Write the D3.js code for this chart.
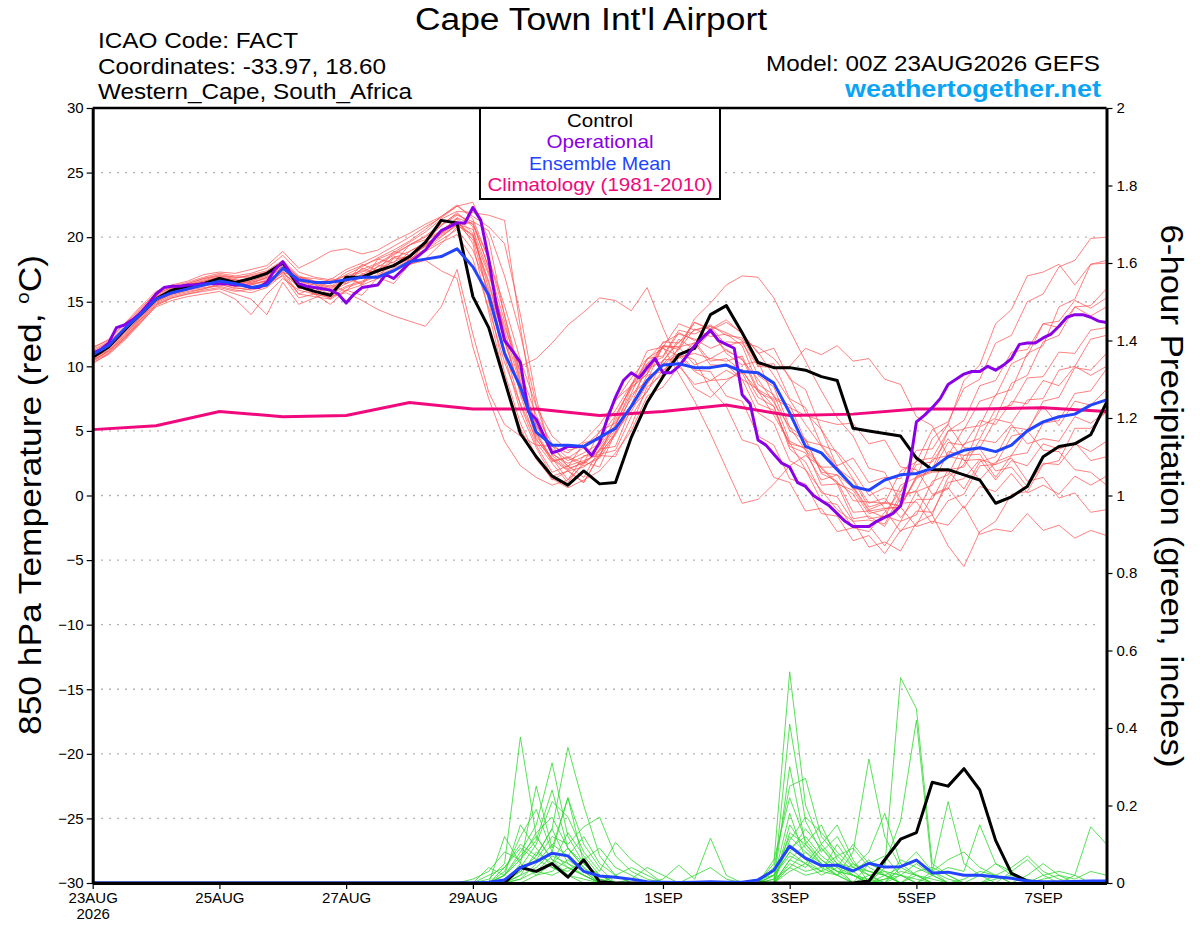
<!DOCTYPE html>
<html><head><meta charset="utf-8">
<script src="https://cdn.jsdelivr.net/npm/d3@7"></script>
<style>body{margin:0;background:#fff}svg{display:block}text{font-family:"Liberation Sans",Arial,Helvetica,sans-serif}</style>
</head><body><svg id="chart" width="1200" height="927"></svg>
<script>
// ---------- DATA ----------
const tempTicks = [-30,-25,-20,-15,-10,-5,0,5,10,15,20,25,30];
const gridValues = [-25,-20,-15,-10,-5,0,5,10,15,20,25];
const precipTicks = [0,0.2,0.4,0.6,0.8,1,1.2,1.4,1.6,1.8,2];
const xTickDays = [0,2,4,6,9,11,13,15];
const xTickLabels = ["23AUG","25AUG","27AUG","29AUG","1SEP","3SEP","5SEP","7SEP"];

// 6-hourly control (GEFS c00) 850 hPa temperature
const controlTemp = [10.7,11.5,12.8,14.0,15.2,15.9,16.2,16.4,16.8,16.5,
 16.8,17.2,18.0,16.2,15.8,15.5,16.9,16.9,17.4,17.8,
 18.5,19.6,21.3,21.1,15.4,13.0,8.9,4.8,3.0,1.5,
 0.8,1.9,0.9,1.0,4.5,7.2,9.2,10.9,11.4,14.0,
 14.7,12.6,10.3,9.9,9.9,9.7,9.2,8.9,5.2,5.0,
 4.8,4.6,2.9,2.0,2.0,1.6,1.2,-0.6,-0.1,0.7,
 3.0,3.8,4.0,4.7,7.2];

// 6-hourly ensemble mean
const meanTemp = [10.9,11.6,12.9,14.0,15.2,15.7,16.0,16.3,16.6,16.4,
 16.1,16.3,17.6,16.7,16.5,16.5,16.7,16.9,16.9,17.4,
 18.1,18.3,18.5,19.1,17.7,15.5,11.0,8.4,4.9,3.9,
 3.9,3.8,4.5,5.2,6.9,8.9,10.1,10.2,9.9,9.9,
 10.1,9.6,9.5,8.7,6.4,3.8,3.3,2.0,0.7,0.4,
 1.2,1.6,1.7,2.1,3.0,3.5,3.7,3.4,3.9,5.0,
 5.7,6.1,6.3,7.0,7.4];

// 3-hourly operational run
const operationalTemp = [11.0,11.3,11.8,13.0,13.2,13.6,14.1,14.8,15.6,16.1,
 16.2,16.2,16.3,16.3,16.4,16.4,16.4,16.4,16.3,16.3,
 16.1,16.1,16.5,17.5,18.1,17.2,16.4,16.2,16.1,16.0,
 15.9,15.6,14.9,15.6,16.1,16.2,16.3,17.1,16.8,17.4,
 18.0,18.5,19.0,19.8,20.5,20.8,21.1,21.1,22.3,21.3,
 18.3,14.6,12.0,11.2,10.3,6.5,5.9,4.6,3.3,3.5,
 3.8,3.8,3.8,3.1,4.1,6.0,7.6,8.9,9.5,9.1,
 9.9,10.6,9.5,9.5,10.0,10.8,11.6,12.2,12.8,12.0,
 11.7,11.4,7.8,7.1,4.3,3.9,3.2,2.5,2.2,1.0,
 0.7,0.0,-0.4,-0.8,-1.4,-2.0,-2.4,-2.4,-2.4,-2.0,
 -1.7,-1.4,-0.8,1.7,5.7,6.2,6.8,7.5,8.6,9.0,
 9.4,9.6,9.6,10.0,9.7,10.1,10.6,11.7,11.8,11.8,
 12.2,12.5,13.1,13.8,14.0,14.0,13.8,13.5,13.4];

// daily climatology (1981-2010)
const climatologyTemp = [5.1,5.4,6.5,6.1,6.2,7.2,6.7,6.7,6.2,6.5,7.0,6.2,6.3,6.7,6.7,6.8,6.5];

// 6-hourly ensemble members, 850 hPa temperature
const memberTemps = [
 [11.5,12.0,13.2,14.5,15.6, 16.1,16.3,16.7,17.0,16.8,17.1,17.4,18.2, 17.0,16.6,16.4,17.3,17.8,18.3,18.8,19.6, 20.4,21.4,22.0,21.9, 21.7,21.3,13.0,5.5, 3.2,2.5,3.0,3.8,5.5, 7.5,9.8,10.4,12.1,11.3,12.6,11.2, 10.6,8.0,7.4,4.2,3.6,0.8,0.9, -1.8,-1.6,-2.4,-0.2,0.4,2.8,3.1,5.2,5.4, 7.8,8.2,11.0,11.6,14.6,15.2,17.9,18.0],
 [10.8,11.4,12.5,13.8,15.0, 15.6,16.0,16.2,16.5,16.2,16.4,16.9,17.6, 16.2,15.6,15.3,16.1,16.5,17.0,17.6,18.2, 19.0,19.8,20.6,19.0, 15.8,12.2,10.0,10.6, 11.8,13.2,14.2,15.3,15.1, 14.3,16.1,13.0,10.2,8.3,7.6,8.8, 9.8,7.6,6.9,3.8,3.3,1.2,1.6, 0.6,-1.2,-1.0,-0.9,1.4,1.8,1.9,0.5,2.6, 3.0,5.3,5.1,6.9,5.4,7.3,7.0,8.2],
 [10.4,11.2,12.3,13.6,14.9, 15.5,15.8,16.0,16.3,16.1,15.9,16.2,17.3, 16.8,15.8,16.6,16.4,17.6,17.2,18.5,18.4, 19.4,20.3,21.2,20.1, 16.4,11.9,8.2,4.6, 2.9,2.0,2.6,3.4,5.1, 7.0,8.8,10.2,11.3,13.7,14.9,16.3, 17.0,16.9,15.3,12.8,10.4,8.1,6.0, 4.6,2.1,1.8,-0.6,-0.5,-2.2,-0.4,0.1,2.3, 2.4,4.6,4.9,7.3,7.6,9.9,9.7,11.0],
 [11.0,11.6,12.9,14.2,15.4, 15.9,16.2,16.6,16.9,16.7,16.5,16.8,17.8, 16.9,16.8,16.6,17.0,17.4,17.3,17.8,18.3, 18.9,19.6,20.2,18.3, 14.5,10.3,7.1,4.4, 2.7,2.9,3.7,4.5,6.2, 8.4,10.5,11.8,12.5,12.1,11.4,11.9, 11.8,10.0,9.9,10.0,11.4,10.9,11.6, 10.4,10.6,9.0,8.6,6.1,5.4,3.0,2.8,1.2, 2.6,3.1,5.0,3.5,3.4,2.0,1.8,0.8],
 [10.6,11.3,12.4,13.7,15.1, 15.7,16.0,16.4,16.6,16.3,16.6,17.0,17.9, 16.0,16.4,15.4,16.9,16.3,17.8,17.7,18.9, 19.6,20.9,21.9,20.8, 15.0,9.5,5.6,3.0, 1.2,1.9,1.0,3.1,3.0, 5.4,8.4,9.4,11.5,10.1,10.6,10.4, 10.8,8.2,6.9,3.6,2.6,0.2,-0.1, -2.0,-1.9,-2.2,0.1,0.3,-1.5,-3.9,-5.5,-2.8, -2.0,0.1,0.3,2.4,2.7,5.2,5.2,6.5],
 [11.3,11.9,13.0,14.4,15.7, 16.2,16.5,16.9,17.2,17.0,17.2,17.6,18.6, 17.3,16.9,16.7,17.5,18.0,18.6,19.3,20.0, 20.8,21.5,22.4,22.7, 19.8,13.9,8.9,5.3, 3.6,2.7,3.3,4.0,5.8, 8.6,9.6,11.6,11.3,12.9,12.3,12.5, 11.6,8.6,7.8,5.0,4.3,1.8,1.6, -0.4,-0.5,-0.6,1.9,2.6,5.1,5.7,8.3,9.0, 11.8,12.4,15.0,15.6,17.7,18.2,19.9,20.0],
 [10.2,11.0,12.1,13.5,14.8, 15.3,15.6,15.9,16.1,15.8,16.0,16.4,17.0, 15.3,15.6,14.8,15.9,15.5,16.9,16.4,17.9, 18.3,19.5,20.8,21.2, 17.6,12.5,7.8,4.1, 2.5,1.0,2.6,2.2,4.9, 6.5,8.6,10.4,11.9,12.8,13.1,12.6, 12.0,9.3,8.4,5.3,4.4,1.7,1.1, -1.3,-1.2,-1.7,0.8,1.4,4.4,5.5,8.9,10.1, 13.3,14.4,17.0,17.3,17.9,16.3,17.9,18.2],
 [10.9,11.5,12.7,14.0,15.3, 15.8,16.1,16.3,16.7,16.4,16.3,16.6,17.4, 15.6,16.1,15.2,16.9,16.4,18.3,18.0,19.4, 19.8,20.5,21.4,19.5, 14.2,9.0,5.2,2.8, 1.3,0.6,1.2,1.9,3.3, 5.0,7.7,8.4,10.0,8.6,8.9,9.0, 9.5,7.1,6.6,4.0,3.7,2.2,2.2, 0.5,0.5,-1.0,-0.9,-2.4,-2.0,-2.3,-0.8,-3.0, -2.6,-2.8,-1.4,-2.7,-2.3,-3.3,-2.7,-3.1],
 [10.5,11.1,12.2,13.6,15.0, 15.6,15.9,16.1,16.2,15.9,15.7,16.1,17.1, 15.6,15.4,15.2,15.9,16.3,16.8,17.4,17.9, 18.2,17.4,16.8,11.5, 7.5,4.2,2.3,1.4, 0.8,1.2,2.4,3.6,5.3, 6.9,9.3,9.6,11.0,9.7,9.6,7.7, 7.3,4.6,3.9,1.3,0.9,-1.4,-1.6, -3.5,-3.1,-4.5,-2.7,-2.3,0.0,0.5,3.1,3.7, 5.9,5.6,7.4,7.5,9.7,10.0,12.1,12.4],
 [11.4,12.1,13.3,14.6,15.8, 16.3,16.6,17.1,17.3,17.2,17.5,17.8,18.9, 17.6,18.2,18.9,19.1,18.7,19.0,19.7,20.3, 21.0,21.6,22.5,21.4, 18.3,14.7,10.5,6.9, 4.6,3.5,3.8,4.9,6.6, 8.6,10.2,11.5,9.4,7.3,4.8,2.1, -0.6,-0.3,0.9,2.3,3.1,2.2,1.0, 0.1,-1.8,-1.6,-2.0,0.3,0.8,3.4,3.1,3.2, 1.4,3.1,3.3,5.6,5.8,7.9,8.1,9.8],
 [10.7,11.2,12.2,13.4,14.6, 15.1,15.4,15.6,15.8,15.2,14.0,15.6,16.8, 15.9,15.6,15.4,15.7,15.1,14.4,13.9,13.5, 13.1,14.6,17.5,12.5, 8.0,5.5,4.6,3.9, 3.8,3.3,4.2,5.5,7.3, 9.1,10.6,11.4,10.8,9.6,8.9,9.7, 9.0,6.4,5.6,2.7,2.0,-0.4,-0.7, -2.5,-2.3,-3.9,-2.0,-1.5,1.1,1.6,4.0,4.4, 6.7,7.0,9.1,9.2,11.1,11.0,12.8,13.0],
 [10.3,10.9,12.0,13.3,14.7, 15.3,15.6,15.8,16.0,15.6,15.2,14.0,16.5, 14.8,15.3,15.8,16.4,16.9,17.3,17.9,18.5, 19.3,20.1,20.9,20.2, 17.1,13.1,9.6,6.2, 4.0,2.9,2.3,2.9,4.7, 6.9,8.7,10.1,11.0,10.5,8.2,6.9, 4.3,3.9,1.4,1.0,-1.2,-1.0,-2.8, -2.5,-2.8,-1.3,0.3,2.7,2.9,5.0,5.1,7.3, 7.7,10.2,10.8,13.3,13.5,15.1,14.5,15.3],
 [11.1,11.7,12.9,14.2,15.5, 16.0,16.4,16.8,17.1,16.9,16.9,17.3,18.0, 16.9,16.5,16.2,16.8,17.5,18.0,18.7,19.4, 20.0,20.9,21.7,21.2, 20.5,17.0,12.5,7.0, 3.3,2.3,2.7,3.2,4.8, 7.0,10.2,10.7,12.6,12.0,12.8,11.0, 10.1,10.4,7.6,7.0,4.2,3.9,2.3, 2.9,1.0,1.4,1.3,3.5,3.6,5.5,3.7,3.6, 1.9,2.2,0.7,2.5,2.4,4.0,3.4,4.2],
 [10.8,11.5,12.8,14.1,15.4, 15.9,16.2,16.5,16.8,16.5,16.4,16.6,17.5, 16.9,16.0,16.8,16.5,17.9,17.4,18.9,18.6, 19.7,20.4,21.5,20.3, 16.0,11.3,7.0,3.9, 1.8,2.3,1.4,3.6,3.8, 6.8,8.0,10.5,10.6,11.9,10.4,10.6, 9.6,8.1,6.2,4.1,2.0,0.4,-1.1, -2.0,-4.0,-3.6,-4.3,-2.1,-1.5,1.4,2.4,5.3, 6.0,8.7,9.3,11.9,12.4,14.6,14.7,16.0],
 [10.6,11.4,12.6,14.0,15.2, 15.8,16.1,16.5,16.8,16.6,16.8,17.1,17.7, 16.7,16.4,16.1,16.6,17.1,17.7,18.4,18.9, 19.5,20.2,21.0,20.6, 17.3,12.8,8.5,4.9, 2.8,1.9,2.2,3.1,4.9, 7.8,8.9,11.6,11.5,13.4,12.8,13.4, 12.6,11.0,11.4,9.0,8.2,5.1,3.2, 1.3,-0.6,-0.2,-1.7,-0.3,-0.3,2.0,2.2,4.3, 4.1,5.5,4.0,4.4,4.2,6.1,5.6,6.5],
 [11.0,11.7,12.8,14.1,15.3, 15.9,16.3,16.6,16.9,16.7,16.6,17.1,17.9, 16.6,16.3,16.0,16.8,17.3,17.9,18.6,19.4, 20.1,21.0,21.8,21.0, 17.7,13.5,8.7,4.3, 2.9,1.2,3.1,3.0,6.1, 8.4,9.4,11.5,11.5,11.8,10.1,10.1, 9.0,8.2,7.5,6.8,6.2,5.8,5.5, 5.6,4.0,4.3,2.2,2.0,0.1,0.6,-1.0,0.7, 0.3,1.7,0.2,0.8,0.1,1.5,0.8,1.5],
 [10.9,11.6,12.7,13.9,15.2, 15.7,16.0,16.4,16.7,16.5,16.5,16.9,17.6, 16.7,15.6,16.3,15.8,17.2,16.8,18.4,18.2, 19.4,20.3,21.1,20.0, 16.6,12.0,8.0,4.8, 2.6,3.0,2.5,5.0,5.6, 7.9,10.6,10.8,12.8,12.5,13.1,11.6, 11.9,11.5,10.6,9.2,6.4,5.1,2.2, 0.7,-1.1,-0.6,-0.8,1.5,1.9,4.1,3.9,5.8, 5.5,7.3,7.1,8.9,8.5,10.0,9.3,10.0],
 [10.5,11.2,12.4,13.8,15.1, 15.6,15.9,16.3,16.5,16.2,16.3,16.7,17.3, 16.1,15.8,15.6,16.2,16.6,17.1,17.8,18.3, 19.1,20.0,21.0,19.8, 15.5,10.8,6.5,3.7, 1.5,1.9,1.0,3.2,3.5, 6.1,8.1,9.7,10.7,11.0,10.6,11.3, 10.5,9.0,7.2,5.3,3.5,2.1,0.9, 0.4,-1.4,-1.1,-2.8,-1.2,-1.3,1.0,1.3,2.8, 2.4,2.9,1.1,1.4,-0.2,0.2,-1.3,-1.1],
 [11.2,11.8,12.9,14.3,15.6, 16.1,16.4,16.8,17.0,16.9,17.0,17.3,18.1, 16.9,16.6,16.4,17.1,17.7,18.4,19.0,19.7, 20.6,21.6,22.4,21.6, 20.8,19.5,14.0,7.5, 3.1,2.1,2.5,3.5,5.4, 8.3,9.4,11.9,11.8,13.4,12.9,13.6, 12.5,11.1,9.3,7.4,5.5,3.8,2.1, 1.2,-0.9,-0.5,-0.8,1.3,2.0,5.0,5.8,8.5, 8.9,11.1,11.3,13.3,13.0,14.6,13.9,14.6],
 [10.4,11.0,12.1,13.4,14.8, 15.4,15.7,16.0,16.4,16.0,16.1,16.5,17.2, 16.3,16.1,15.9,16.6,17.0,17.5,18.1,18.6, 19.3,20.4,21.5,21.0, 18.4,14.0,9.3,5.4, 3.9,2.2,4.1,4.3,7.4, 8.5,11.2,11.5,13.3,12.8,13.2,12.4, 12.2,10.1,10.2,7.5,6.8,3.9,3.4, 1.9,0.0,0.6,0.3,2.4,2.6,4.4,2.7,2.8, 1.2,2.7,2.3,4.0,3.6,4.1,2.7,3.0]
];

// 6-hourly precipitation (inches), control and ensemble mean
const controlPrecip = [0,0,0,0,0,0,0,0,0,0,
 0,0,0,0,0,0,0,0,0,0,
 0,0,0,0,0,0,0,0.04,0.03,0.05,
 0.015,0.06,0.003,0,0,0,0,0,0,0,
 0,0,0,0,0,0,0,0,0,0.005,
 0.06,0.113,0.13,0.26,0.25,0.295,0.24,0.11,0.025,0.005,
 0,0,0,0,0];
const meanPrecip = [0,0,0,0,0,0,0,0,0,0,
 0,0,0,0,0,0,0,0,0,0,
 0,0,0,0,0,0.002,0.008,0.04,0.055,0.077,
 0.07,0.03,0.018,0.015,0.01,0.003,0.002,0.001,0.002,0.003,
 0.002,0.002,0.008,0.033,0.095,0.064,0.045,0.046,0.031,0.051,
 0.041,0.042,0.059,0.026,0.028,0.02,0.02,0.016,0.012,0.005,
 0.003,0.003,0.004,0.005,0.005];

// member precipitation from 29AUG 00Z (step 24) onward; earlier steps are dry (0)
const memberPrecipStart = 24;
const memberPrecip = [
 [0,.01,.05,.377,.12,.06,.02,.01, 0,0,0,0,0,0,0,0,0,0,0, .02,.12,.08,.05,.03,.02,.01,0,0,.02,.01, 0,0,0,0,0,0,0,0,0,0,0],
 [0,0,.02,.08,.15,.31,.12,.05, .02,0,0,0,0,0,0,0,0,0,0, .05,.545,.2,.1,.05,.02,0,.01,.03,.02,0, 0,0,0,0,0,0,0,0,0,0,0],
 [0,0,0,.03,.07,.14,.35,.2, .07,.02,0,0,0,0,0,0,0,0,0, 0,.41,.16,.08,.12,.05,.02,0,.02,.01,0, 0,0,0,0,0,0,0,0,0,0,0],
 [0,0,.12,.05,.25,.09,.22,.05, .01,0,0,0,0,0,0,0,0,0,0, .04,.25,.27,.12,.07,.03,.06,.02,0,0,0, 0,0,0,0,0,0,0,0,0,0,0],
 [0,.02,.04,.09,.06,.12,.1,.145, .17,.07,.03,.01,0,0,0,0,0,0,0, 0,.15,.09,.05,.02,.08,.32,.12,.04,.02,0, 0,0,0,0,0,0,0,0,0,0,0],
 [0,0,.01,.04,.1,.21,.17,.08, .03,.105,.06,.03,0,0,0,0,0,0,0, 0,.06,.04,.09,.05,.04,.08,.18,.05,.02,0, 0,0,0,0,0,0,0,0,0,0,0],
 [0,0,0,.02,.08,.05,.13,.07, .02,0,0,0,.01,.046,.01,.116,.02,0,0, .03,.09,.12,.07,.04,0,0,.04,.53,.45,.05, .02,0,0,0,0,0,0,0,0,0,0],
 [0,0,.03,.12,.19,.08,.04,.02, 0,0,0,0,0,0,0,0,0,0,0, .02,.07,.05,.1,.15,.06,0,.05,.16,.42,.03, .21,.05,.02,0,0,0,0,0,0,0,0],
 [.01,.03,.08,.06,.13,.17,.09,.04, 0,0,0,0,0,0,0,0,0,0,0, 0,.11,.17,.13,.08,.04,.03,.02,0,0,.02, .04,.03,.15,.05,.02,0,0,0,0,0,0],
 [0,0,0,.01,.05,.1,.07,.12, .05,.02,0,0,0,0,0,0,0,0,0, 0,.05,.03,.04,.02,.05,.03,.02,0,0,0, 0,0,0,.02,.04,.07,.03,.01,0,0,0],
 [0,0,.02,.06,.11,.24,.09,.05, .02,0,0,0,0,0,0,0,0,0,0, .01,.18,.06,.03,.1,.04,.02,0,0,0,0, 0,.01,.03,.02,0,0,0,0,.02,.145,.1],
 [0,0,0,.04,.03,.07,.05,.03, 0,0,0,0,0,0,.02,.04,.01,0,0, 0,.13,.1,.15,.06,.02,0,0,.06,.04,.02, 0,0,0,0,.03,.06,.02,0,0,0,0],
 [0,.04,.02,.15,.09,.04,.02,0, 0,.02,.04,.02,0,0,0,0,0,0,0, .06,.22,.11,.06,.03,0,.05,.07,.02,0,0, 0,0,0,0,0,0,0,0,0,0,0],
 [0,0,0,.02,.04,.08,.22,.1, .04,0,0,0,0,0,0,0,0,0,0, 0,.04,.08,.04,.07,.09,.04,.02,0,.03,.04, .02,0,0,0,0,.02,.05,.02,0,0,0],
 [0,0,.01,.03,.06,.04,.03,.06, .09,.04,.02,0,0,0,0,0,0,0,0, 0,.03,.05,.02,.04,.1,.05,.03,0,0,0, 0,0,.02,.05,.03,0,0,0,0,0,0],
 [0,0,.04,.1,.07,.14,.05,.02, 0,0,0,0,0,0,0,0,0,0,.01, .02,.08,.14,.09,.04,.02,0,0,.04,.08,.03, .01,0,0,0,0,0,0,0,0,0,0],
 [0,0,0,0,.02,.05,.09,.04, .01,0,0,0,0,0,0,0,0,0,0, 0,.3,.1,.05,.02,0,.02,.03,.02,0,0, 0,0,0,0,0,0,.01,.02,.01,.03,.02],
 [0,0,0,.05,.02,.03,.06,.03, 0,0,0,0,0,0,0,0,0,0,0, .01,.04,.02,.03,.05,.03,0,.01,.02,.05,.02, 0,0,0,.01,.02,.01,0,0,0,0,0],
 [0,0,.02,.07,.12,.06,.04,.02, 0,0,0,0,0,0,0,0,0,0,0, 0,.06,.1,.06,.03,.02,0,0,0,0,.03, .06,.08,.04,.02,0,0,0,0,0,0,0],
 [0,0,0,.01,.03,.02,.04,.02, 0,0,.01,.04,.02,0,0,0,0,0,0, .02,.08,.05,.03,.02,0,0,.02,.04,.06,.03, 0,0,0,0,0,0,.02,.03,.02,0,0]
];

const legendItems = [
 {label:"Control", color:"#000000", len:66},
 {label:"Operational", color:"#8a00e6", len:107},
 {label:"Ensemble Mean", color:"#2244ff", len:142},
 {label:"Climatology (1981-2010)", color:"#f0087c", len:225}
];

// ---------- DRAW ----------
const svg = d3.select("#chart");
svg.append("rect").attr("width",1200).attr("height",927).attr("fill","#fff");

const x = d3.scaleLinear().domain([0, 384]).range([92.7, 1106.5]);
const yT = d3.scaleLinear().domain([-30, 30]).range([883, 108]);
const yP = d3.scaleLinear().domain([0, 2]).range([883, 108]);

const lineT = step => d3.line().x((d,i)=>x(i*step)).y(d=>yT(d));
const lineP = d3.line().x((d,i)=>x(i*6)).y(d=>yP(d));

// grid
svg.append("g").selectAll("line").data(gridValues).join("line")
  .attr("x1",101).attr("x2",1100)
  .attr("y1",d=>yT(d)).attr("y2",d=>yT(d))
  .attr("stroke","#b4b4b4").attr("stroke-width",1.4).attr("stroke-dasharray","2,6");

// red members
svg.append("g").selectAll("path").data(memberTemps).join("path")
  .attr("d", lineT(6)).attr("fill","none")
  .attr("stroke","#ff5050").attr("stroke-width",0.8).attr("stroke-opacity",0.9);

// green members
const fullPrecip = memberPrecip.map(a => {
  const out = new Array(65).fill(0);
  a.forEach((v,k)=>{ if (memberPrecipStart+k < 65) out[memberPrecipStart+k] = v; });
  return out;
});
svg.append("g").selectAll("path").data(fullPrecip).join("path")
  .attr("d", lineP).attr("fill","none")
  .attr("stroke","#2ed82e").attr("stroke-width",0.8);

// climatology
svg.append("path").datum(climatologyTemp).attr("d", lineT(24))
  .attr("fill","none").attr("stroke","#f0087c").attr("stroke-width",3);

// control
svg.append("path").datum(controlTemp).attr("d", lineT(6))
  .attr("fill","none").attr("stroke","#000").attr("stroke-width",3).attr("stroke-linejoin","round");
svg.append("path").datum(controlPrecip).attr("d", lineP)
  .attr("fill","none").attr("stroke","#000").attr("stroke-width",3).attr("stroke-linejoin","round");

// operational
svg.append("path").datum(operationalTemp).attr("d", lineT(3))
  .attr("fill","none").attr("stroke","#8a00e6").attr("stroke-width",3).attr("stroke-linejoin","round");

// ensemble mean
svg.append("path").datum(meanTemp).attr("d", lineT(6))
  .attr("fill","none").attr("stroke","#2244ff").attr("stroke-width",3).attr("stroke-linejoin","round");
svg.append("path").datum(meanPrecip).attr("d", lineP)
  .attr("fill","none").attr("stroke","#2244ff").attr("stroke-width",3).attr("stroke-linejoin","round");

// axes
const fmtP = d => (d===0||d===1||d===2) ? String(d) : d3.format(".1f")(d);
const gL = svg.append("g").attr("transform","translate(92.7,0)")
  .call(d3.axisLeft(yT).tickValues(tempTicks).tickSize(6).tickSizeOuter(0).tickPadding(3));
const gR = svg.append("g").attr("transform","translate(1106.5,0)")
  .call(d3.axisRight(yP).tickValues(precipTicks).tickFormat(fmtP).tickSize(6).tickSizeOuter(0).tickPadding(4));
const gB = svg.append("g").attr("transform","translate(0,883)")
  .call(d3.axisBottom(x).tickValues(xTickDays.map(d=>d*24))
    .tickFormat((d,i)=>xTickLabels[i]).tickSize(6).tickSizeOuter(0).tickPadding(3));
[gL,gR,gB].forEach(g=>{
  g.selectAll("text").attr("font-size",15).attr("fill","#000")
   .attr("font-family",'"Liberation Sans",Arial,sans-serif');
  g.selectAll(".tick line").attr("stroke","#000").attr("stroke-width",1.2);
  g.select(".domain").attr("stroke","#000").attr("stroke-width",3);
});
// first bottom label gets the year on a second line
{
  const t = gB.select(".tick text");
  t.text(null).attr("dy",null);
  t.append("tspan").attr("x",0).attr("dy","0.71em").text(xTickLabels[0]);
  t.append("tspan").attr("x",0).attr("dy","1.12em").text("2026");
}
// top frame
svg.append("line").attr("x1",92.7).attr("x2",1106.5).attr("y1",108).attr("y2",108)
  .attr("stroke","#000").attr("stroke-width",2.5);

// legend
svg.append("rect").attr("x",480).attr("y",108).attr("width",240).attr("height",91)
  .attr("fill","#fff").attr("stroke","#000").attr("stroke-width",2);
svg.append("g").selectAll("text").data(legendItems).join("text")
  .attr("x",600).attr("y",(d,i)=>127+i*21.4)
  .attr("text-anchor","middle").attr("font-size",18.5)
  .attr("textLength",d=>d.len).attr("lengthAdjust","spacingAndGlyphs")
  .attr("fill",d=>d.color).text(d=>d.label);

// titles
function txt(xp, yp, s, size, opts={}) {
  const t = svg.append("text").attr("x",xp).attr("y",yp).attr("font-size",size).text(s);
  if (opts.anchor) t.attr("text-anchor",opts.anchor);
  if (opts.len) t.attr("textLength",opts.len).attr("lengthAdjust","spacingAndGlyphs");
  if (opts.color) t.attr("fill",opts.color);
  if (opts.weight) t.attr("font-weight",opts.weight);
  return t;
}
txt(591, 30, "Cape Town Int'l Airport", 31, {anchor:"middle", len:352});
txt(98, 48, "ICAO Code: FACT", 22, {len:200});
txt(98, 74, "Coordinates: -33.97, 18.60", 22, {len:288});
txt(98, 99, "Western_Cape, South_Africa", 22, {len:314});
txt(1100, 71, "Model: 00Z 23AUG2026 GEFS", 22, {anchor:"end", len:334});
txt(1101, 97, "weathertogether.net", 24, {anchor:"end", len:256, color:"#0aa4f5", weight:"bold"});

// axis titles
const lt = svg.append("text").attr("transform","translate(41,495) rotate(-90)")
  .attr("text-anchor","middle").attr("font-size",31)
  .attr("textLength",480).attr("lengthAdjust","spacingAndGlyphs");
lt.append("tspan").text("850 hPa Temperature (red, ");
lt.append("tspan").attr("font-size",18).attr("dy",-12).text("o");
lt.append("tspan").attr("dy",12).text("C)");
svg.append("text").attr("transform","translate(1161,496) rotate(90)")
  .attr("text-anchor","middle").attr("font-size",31)
  .attr("textLength",543).attr("lengthAdjust","spacingAndGlyphs")
  .text("6-hour Precipitation (green, inches)");
</script></body></html>
